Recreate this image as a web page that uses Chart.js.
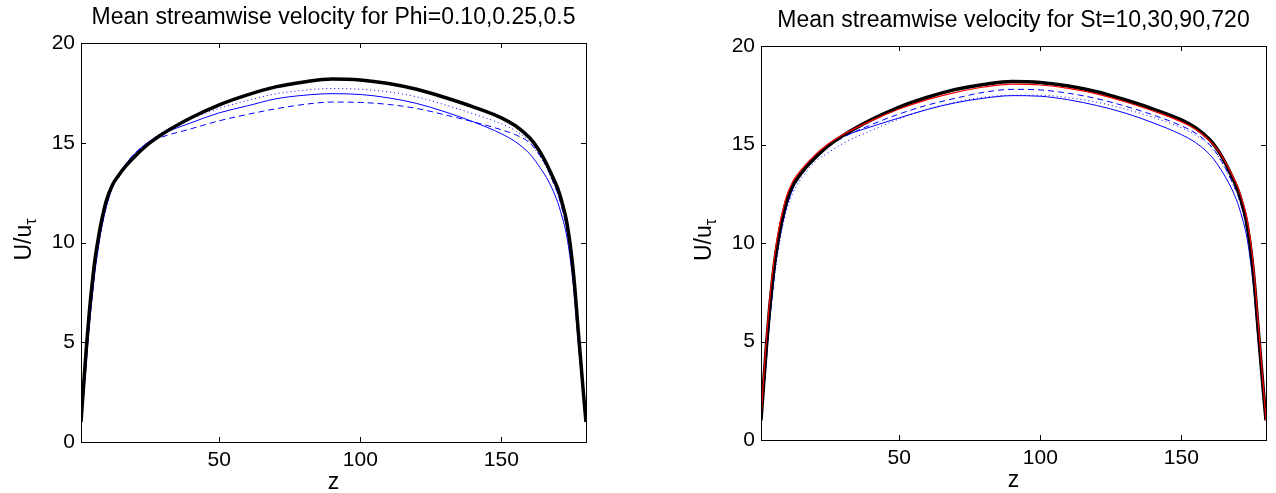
<!DOCTYPE html>
<html>
<head>
<meta charset="utf-8">
<script src="https://cdn.jsdelivr.net/npm/chart.js@4.4.1/dist/chart.umd.min.js"></script>
<style>
  html, body { margin: 0; padding: 0; background: #fff; }
  #wrap { position: relative; width: 1276px; height: 493px; }
  canvas { position: absolute; top: 0; }
  #phiChart { left: 0; }
  #stChart { left: 638px; }
</style>
</head>
<body>
<div id="wrap">
  <canvas id="phiChart" width="638" height="493"></canvas>
  <canvas id="stChart" width="638" height="493"></canvas>
</div>
<script>
// wall-normal positions shared by every profile
const zGrid = [1, 2, 3, 4, 5, 6, 7, 8, 9, 10, 12, 14, 17, 20, 25, 30, 40, 50, 60, 70, 80, 90,
    100, 110, 120, 130, 140, 150, 155, 160, 163, 166, 168, 170, 172, 173, 174, 175, 176, 177, 178, 179, 180];

// unladen profile (thick black, both panels)
const uUnladen = [1.0, 3.0, 4.9, 6.6, 8.0, 9.2, 10.1, 10.9, 11.55, 12.1, 12.85, 13.3, 13.85, 14.3, 14.95, 15.45, 16.25, 16.9, 17.4, 17.8, 18.05, 18.2,
    18.15, 17.97, 17.68, 17.27, 16.8, 16.25, 15.85, 15.25, 14.7, 13.95, 13.35, 12.7, 11.75, 11.15, 10.3, 9.2, 7.8, 6.0, 4.3, 2.6, 1.0];

// left panel: Phi series (blue solid / dashed / dotted)
const uPhiSolid = [1.0, 2.4, 4.2, 5.9, 7.3, 8.6, 9.6, 10.5, 11.2, 11.8, 12.7, 13.3, 13.95, 14.45, 15.05, 15.45, 16.0, 16.5, 16.85, 17.2, 17.38, 17.46,
    17.42, 17.25, 16.97, 16.55, 16.05, 15.45, 15.05, 14.45, 13.9, 13.25, 12.7, 12.0, 11.05, 10.45, 9.6, 8.5, 7.1, 5.4, 3.8, 2.3, 1.0];
const uPhiDashed = [1.0, 2.5, 4.3, 6.0, 7.4, 8.7, 9.7, 10.55, 11.25, 11.85, 12.75, 13.3, 13.95, 14.45, 15.0, 15.3, 15.7, 16.1, 16.42, 16.7, 16.92, 17.04,
    17.02, 16.92, 16.72, 16.4, 16.05, 15.65, 15.4, 15.0, 14.5, 13.8, 13.15, 12.45, 11.45, 10.8, 9.95, 8.8, 7.4, 5.7, 4.0, 2.45, 1.0];
const uPhiDotted = [1.0, 2.5, 4.3, 6.0, 7.4, 8.7, 9.7, 10.55, 11.25, 11.85, 12.75, 13.3, 13.95, 14.45, 15.05, 15.55, 16.2, 16.72, 17.12, 17.45, 17.63, 17.72,
    17.68, 17.55, 17.3, 16.9, 16.45, 15.95, 15.6, 15.05, 14.45, 13.75, 13.1, 12.4, 11.45, 10.8, 9.95, 8.8, 7.4, 5.7, 4.0, 2.45, 1.0];

// right panel: St series (red, blue dashed, blue solid, blue dotted)
const uStRed = [1.0, 3.3, 5.3, 7.0, 8.4, 9.55, 10.45, 11.2, 11.8, 12.35, 13.05, 13.5, 14.0, 14.45, 15.05, 15.5, 16.2, 16.8, 17.28, 17.65, 17.92, 18.06,
    18.02, 17.85, 17.57, 17.17, 16.7, 16.15, 15.78, 15.2, 14.7, 14.0, 13.45, 12.85, 11.95, 11.4, 10.6, 9.55, 8.15, 6.35, 4.6, 2.8, 1.0];
const uStDashed = [1.0, 2.5, 4.3, 6.0, 7.4, 8.7, 9.7, 10.55, 11.2, 11.8, 12.65, 13.2, 13.8, 14.3, 14.9, 15.35, 16.0, 16.55, 17.0, 17.35, 17.65, 17.8,
    17.77, 17.6, 17.33, 16.95, 16.5, 15.95, 15.58, 15.0, 14.45, 13.7, 13.1, 12.45, 11.5, 10.85, 10.0, 8.85, 7.45, 5.7, 4.0, 2.45, 1.0];
const uStSolid = [1.0, 2.5, 4.3, 6.0, 7.4, 8.7, 9.7, 10.55, 11.2, 11.8, 12.65, 13.25, 13.9, 14.4, 15.0, 15.4, 15.9, 16.35, 16.78, 17.12, 17.35, 17.48,
    17.45, 17.27, 16.98, 16.6, 16.1, 15.5, 15.1, 14.5, 13.95, 13.25, 12.7, 12.0, 11.05, 10.45, 9.6, 8.5, 7.1, 5.4, 3.8, 2.3, 1.0];
const uStDotted = [1.0, 2.4, 4.15, 5.85, 7.25, 8.5, 9.5, 10.35, 11.05, 11.65, 12.45, 13.0, 13.6, 14.1, 14.6, 15.05, 15.7, 16.3, 16.8, 17.15, 17.4, 17.5,
    17.5, 17.38, 17.15, 16.8, 16.38, 15.85, 15.48, 14.95, 14.4, 13.65, 13.05, 12.4, 11.45, 10.8, 9.95, 8.8, 7.4, 5.65, 4.0, 2.45, 1.0];

const xTickValues = [50, 100, 150];
const yTickValues = [0, 5, 10, 15, 20];

const FONT = '"Liberation Sans", Arial, Helvetica, sans-serif';
Chart.defaults.font.family = FONT;
Chart.defaults.color = '#000';

function toPoints(u) {
    return zGrid.map((z, i) => ({ x: z, y: u[i] }));
}

function line(u, color, width, dash, order) {
    return {
        data: toPoints(u),
        borderColor: color,
        borderWidth: width,
        borderDash: dash,
        pointRadius: 0,
        fill: false,
        cubicInterpolationMode: 'monotone',
        order: order
    };
}

// box, inward ticks, title and axis labels in the matlab look
const framePlugin = {
    id: 'frame',
    afterDraw(chart, args, opts) {
        const { ctx, chartArea: a, scales } = chart;
        const sx = scales.x, sy = scales.y;
        ctx.save();
        ctx.strokeStyle = '#000';
        ctx.lineWidth = 1;
        ctx.strokeRect(Math.round(a.left) + 0.5, Math.round(a.top) + 0.5,
            Math.round(a.right - a.left), Math.round(a.bottom - a.top));
        ctx.beginPath();
        xTickValues.forEach(v => {
            const px = Math.round(sx.getPixelForValue(v)) + 0.5;
            ctx.moveTo(px, a.bottom); ctx.lineTo(px, a.bottom - 5);
            ctx.moveTo(px, a.top); ctx.lineTo(px, a.top + 5);
        });
        yTickValues.forEach(v => {
            const py = Math.round(sy.getPixelForValue(v)) + 0.5;
            ctx.moveTo(a.left, py); ctx.lineTo(a.left + 5, py);
            ctx.moveTo(a.right, py); ctx.lineTo(a.right - 5, py);
        });
        ctx.stroke();

        const cx = (a.left + a.right) / 2;
        ctx.fillStyle = '#000';
        ctx.textAlign = 'center';
        ctx.textBaseline = 'alphabetic';
        ctx.font = '23px ' + FONT;
        ctx.fillText(opts.title, cx, a.top - 19);
        ctx.fillText('z', cx, a.bottom + 47);

        // y label U/u with subscript tau
        const main = 'U/u', sub = '\u03c4';
        ctx.font = '23px ' + FONT;
        const wMain = ctx.measureText(main).width;
        ctx.font = '16px ' + FONT;
        const wSub = ctx.measureText(sub).width;
        const total = wMain + wSub;
        ctx.translate(a.left - 50, (a.top + a.bottom) / 2 - 3);
        ctx.rotate(-Math.PI / 2);
        ctx.textAlign = 'left';
        ctx.font = '23px ' + FONT;
        ctx.fillText(main, -total / 2, 0);
        ctx.font = '16px ' + FONT;
        ctx.fillText(sub, -total / 2 + wMain, 5);
        ctx.restore();
    }
};

function makeChart(id, title, datasets, box) {
    return new Chart(document.getElementById(id).getContext('2d'), {
        type: 'line',
        data: { datasets: datasets },
        plugins: [framePlugin],
        options: {
            responsive: false,
            animation: false,
            layout: { padding: { left: 0, right: box.right, top: box.top, bottom: 0 } },
            plugins: {
                legend: { display: false },
                tooltip: { enabled: false },
                title: { display: false },
                frame: { title: title }
            },
            scales: {
                x: {
                    type: 'linear',
                    min: 1,
                    max: 180,
                    grid: { display: false, drawTicks: false },
                    border: { display: false },
                    afterBuildTicks: s => { s.ticks = xTickValues.map(v => ({ value: v })); },
                    afterFit: s => { s.height = box.bottom; },
                    ticks: { font: { size: 21 }, padding: 6, maxRotation: 0, autoSkip: false }
                },
                y: {
                    min: 0,
                    max: 20,
                    grid: { display: false, drawTicks: false },
                    border: { display: false },
                    afterBuildTicks: s => { s.ticks = yTickValues.map(v => ({ value: v })); },
                    afterFit: s => { s.width = box.left; },
                    ticks: { font: { size: 21 }, padding: 6 }
                }
            }
        }
    });
}

makeChart('phiChart', 'Mean streamwise velocity for Phi=0.10,0.25,0.5', [
    line(uUnladen, '#000000', 3.5, [], 0),
    line(uPhiSolid, '#0000ff', 1, [], 1),
    line(uPhiDashed, '#0000ff', 1, [6, 4], 2),
    line(uPhiDotted, '#0000ff', 1, [1, 3], 3)
], { left: 81, right: 52, top: 43, bottom: 51 });

makeChart('stChart', 'Mean streamwise velocity for St=10,30,90,720', [
    line(uStRed, '#ff0000', 1.2, [], 0),
    line(uUnladen, '#000000', 3.5, [], 1),
    line(uStDashed, '#0000ff', 1, [6, 4], 2),
    line(uStSolid, '#0000ff', 1, [], 3),
    line(uStDotted, '#0000ff', 1, [1, 3], 4)
], { left: 123, right: 10, top: 46, bottom: 53 });
</script>
</body>
</html>
